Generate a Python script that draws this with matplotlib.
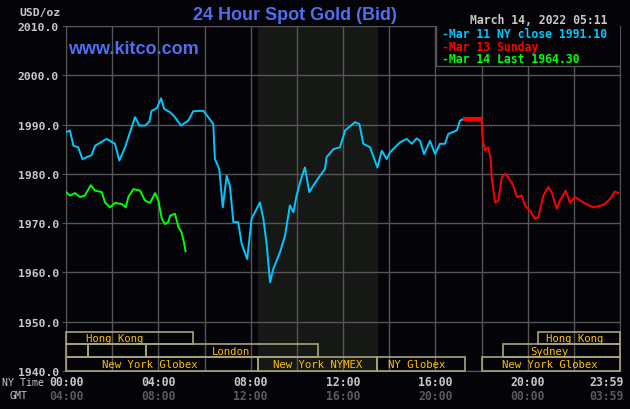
import matplotlib.pyplot as plt
import matplotlib.transforms as mtransforms
from matplotlib.patches import Rectangle

# Mar 11 NY close series (hours NY time, USD/oz)
blue_hours = [0.0, 0.17, 0.32, 0.53, 0.71, 1.11, 1.26, 1.76, 2.12, 2.31, 2.56, 2.77,
              2.99, 3.18, 3.43, 3.61, 3.71, 3.93, 4.12, 4.25, 4.51, 4.72, 4.98, 5.30,
              5.51, 5.95, 6.16, 6.38, 6.45, 6.64, 6.79, 6.96, 7.10, 7.25, 7.46, 7.61,
              7.85, 8.04, 8.26, 8.40, 8.55, 8.69, 8.84, 8.98, 9.27, 9.49, 9.70, 9.85,
              9.99, 10.14, 10.35, 10.54, 10.71, 11.00, 11.22, 11.29, 11.58, 11.87, 12.09,
              12.52, 12.71, 12.88, 13.17, 13.49, 13.68, 13.89, 14.04, 14.47, 14.76, 14.98,
              15.19, 15.34, 15.51, 15.77, 15.99, 16.20, 16.42, 16.56, 16.93, 17.07, 17.21]
blue_prices = [1988.4, 1988.8, 1985.7, 1985.4, 1983.0, 1983.8, 1985.7, 1987.1, 1986.1,
               1982.7, 1985.4, 1988.4, 1991.5, 1989.8, 1989.8, 1990.6, 1992.8, 1993.3,
               1995.3, 1993.2, 1992.5, 1991.5, 1989.8, 1990.8, 1992.7, 1992.8, 1991.5,
               1990.1, 1983.0, 1981.0, 1973.2, 1979.6, 1977.6, 1970.2, 1970.2, 1965.8,
               1962.7, 1970.9, 1972.9, 1974.2, 1970.9, 1965.8, 1958.0, 1960.7, 1964.1,
               1967.5, 1973.6, 1972.2, 1975.6, 1978.3, 1981.3, 1976.3, 1977.6, 1979.6,
               1981.0, 1983.4, 1985.0, 1985.4, 1988.8, 1990.5, 1990.1, 1986.1, 1985.4,
               1981.3, 1984.7, 1983.0, 1984.4, 1986.4, 1987.1, 1986.1, 1987.2, 1986.7,
               1984.0, 1986.7, 1984.0, 1986.1, 1986.1, 1988.1, 1988.8, 1990.8, 1991.1]

# Mar 13 Sunday series
red_hours = [17.21, 18.0, 18.05, 18.15, 18.29, 18.40, 18.44, 18.59, 18.73, 18.88, 19.02,
             19.16, 19.38, 19.53, 19.74, 19.88, 20.10, 20.32, 20.46, 20.68, 20.89, 21.04,
             21.26, 21.40, 21.65, 21.83, 22.05, 22.41, 22.84, 23.28, 23.57, 23.78, 23.93]
red_prices = [1991.1, 1991.1, 1987.1, 1984.7, 1985.4, 1983.0, 1979.3, 1974.2, 1974.6,
              1979.3, 1980.0, 1979.3, 1977.6, 1975.3, 1975.6, 1973.6, 1972.5, 1970.9,
              1971.2, 1975.6, 1977.3, 1976.3, 1972.9, 1974.6, 1976.6, 1974.2, 1975.3,
              1974.2, 1973.2, 1973.7, 1974.9, 1976.4, 1976.1]

# Mar 14 last series
green_hours = [0.0, 0.17, 0.39, 0.61, 0.82, 1.07, 1.26, 1.55, 1.69, 1.91, 2.12, 2.41,
               2.59, 2.70, 2.92, 3.21, 3.42, 3.64, 3.86, 4.00, 4.15, 4.29, 4.43, 4.51,
               4.72, 4.87, 5.01, 5.11, 5.18]
green_prices = [1976.3, 1975.6, 1976.1, 1975.3, 1975.6, 1977.7, 1976.6, 1976.3, 1974.2,
                1973.2, 1974.1, 1973.9, 1973.2, 1975.3, 1976.9, 1976.6, 1974.6, 1974.1,
                1976.1, 1974.6, 1970.9, 1969.8, 1970.2, 1971.5, 1971.9, 1969.2, 1968.1,
                1966.1, 1964.3]

# market sessions: (label, start hour, end hour, row, label hour)
sessions = [
    ("Hong Kong", 0.0, 5.5, 0, 2.12),
    ("", 0.0, 0.97, 1, None),
    ("", 0.97, 3.47, 1, None),
    ("London", 3.47, 10.93, 1, 7.16),
    ("New York Globex", 0.0, 8.33, 2, 3.65),
    ("New York NYMEX", 8.33, 13.49, 2, 10.9),
    ("NY Globex", 13.49, 17.28, 2, 15.19),
    ("Hong Kong", 20.46, 24.0, 0, 22.03),
    ("Sydney", 18.95, 24.0, 1, 20.95),
    ("New York Globex", 18.0, 24.0, 2, 20.95),
]
row_bounds = [(1945.4, 1947.9), (1942.8, 1945.4), (1940.0, 1942.8)]

x_top = ["00:00", "04:00", "08:00", "12:00", "16:00", "20:00"]
x_gmt = ["04:00", "08:00", "12:00", "16:00", "20:00", "00:00"]
x_pos = [0, 4, 8, 12, 16, 20]

legend_items = [("Mar 11 NY close 1991.10", "#00c8ff"),
                ("Mar 13 Sunday", "#ff0000"),
                ("Mar 14 Last 1964.30", "#00ff00")]

bg = "#040408"
grid_c = "#555555"
lab_c = "#c8c8c8"
mono = "DejaVu Sans Mono"

fig = plt.figure(figsize=(6.3, 4.1), dpi=100, facecolor=bg)
ax = fig.add_axes([66 / 630, 38 / 410, 554 / 630, 345 / 410], facecolor=bg)

ax.axvspan(8.33, 13.49, color="#151815", zorder=0)

ax.set_xlim(0, 24)
ax.set_ylim(1940, 2010)
ax.set_xticks(range(0, 25, 2))
ax.set_yticks(range(1940, 2011, 10))
ax.grid(True, color=grid_c, lw=1, zorder=1)
ax.tick_params(axis="x", length=0, labelbottom=False)
ax.tick_params(axis="y", length=3, color=grid_c, labelcolor=lab_c, labelsize=8.2, pad=2)
ax.set_yticklabels([f"{v:.1f}" for v in range(1940, 2011, 10)],
                   family=mono, fontweight="bold")
for s in ax.spines.values():
    s.set_color(grid_c)

# sessions
for label, h0, h1, row, lh in sessions:
    y0, y1 = row_bounds[row]
    ax.add_patch(Rectangle((h0, y0), h1 - h0, y1 - y0, fill=False,
                           edgecolor="#a8a47a", lw=1.2, zorder=3, clip_on=False))
    if label:
        ax.text(lh, (y0 + y1) / 2, label, color="#ffc000", family=mono,
                fontsize=7.7, ha="center", va="center", zorder=4)

ax.plot(blue_hours, blue_prices, color="#00c8ff", lw=1.4, zorder=5)
ax.plot(red_hours[1:], red_prices[1:], color="#ff0000", lw=1.4, zorder=5)
ax.plot(red_hours[:2], red_prices[:2], color="#ff0000", lw=3, zorder=5,
        solid_capstyle="butt")
ax.plot(green_hours, green_prices, color="#00ff00", lw=1.4, zorder=5)

# legend box
ax.add_patch(Rectangle((0.668, 0.885), 0.34, 0.12, transform=ax.transAxes,
                       facecolor=bg, edgecolor=grid_c, lw=1, zorder=6))
for i, (txt, c) in enumerate(legend_items):
    ax.text(0.678, 0.978 - i * 0.036, "-" + txt, transform=ax.transAxes, color=c,
            family=mono, fontweight="bold", fontsize=8.3, va="center", zorder=7)

# header texts
fig.text(295 / 630, 1 - 16 / 410, "24 Hour Spot Gold (Bid)", color="#4f6ef0",
         family="Liberation Sans", fontweight="bold", fontsize=13, ha="center",
         va="center")
fig.text(61 / 630, 1 - 13 / 410, "USD/oz", color=lab_c, family=mono,
         fontweight="bold", fontsize=8.2, ha="right", va="center")
fig.text(607 / 630, 1 - 20 / 410, "March 14, 2022 05:11", color=lab_c, family=mono,
         fontweight="bold", fontsize=8.3, ha="right", va="center")
fig.text(68 / 630, 1 - 49 / 410, "www.kitco.com", color="#4f6ef0",
         family="Liberation Sans", fontweight="bold", fontsize=13, ha="left",
         va="center")

# time axis labels
trans = mtransforms.blended_transform_factory(ax.transData, fig.transFigure)
for h, t, g in zip(x_pos, x_top, x_gmt):
    fig.text(h, 1 - 383 / 410, t, transform=trans, color=lab_c, family=mono,
             fontweight="bold", fontsize=8.3, ha="center", va="center")
    fig.text(h, 1 - 397 / 410, g, transform=trans, color="#5a5a5a", family=mono,
             fontweight="bold", fontsize=8.3, ha="center", va="center")
fig.text(624 / 630, 1 - 383 / 410, "23:59", color=lab_c, family=mono,
         fontweight="bold", fontsize=8.3, ha="right", va="center")
fig.text(624 / 630, 1 - 397 / 410, "03:59", color="#5a5a5a", family=mono,
         fontweight="bold", fontsize=8.3, ha="right", va="center")
fig.text(44 / 630, 1 - 383 / 410, "NY Time", color=lab_c, family=mono,
         fontsize=7.1, ha="right", va="center")
fig.text(27 / 630, 1 - 396 / 410, "GMT", color=lab_c, family=mono,
         fontsize=7.1, ha="right", va="center")

fig.savefig("out.png", dpi=100, facecolor=bg)
